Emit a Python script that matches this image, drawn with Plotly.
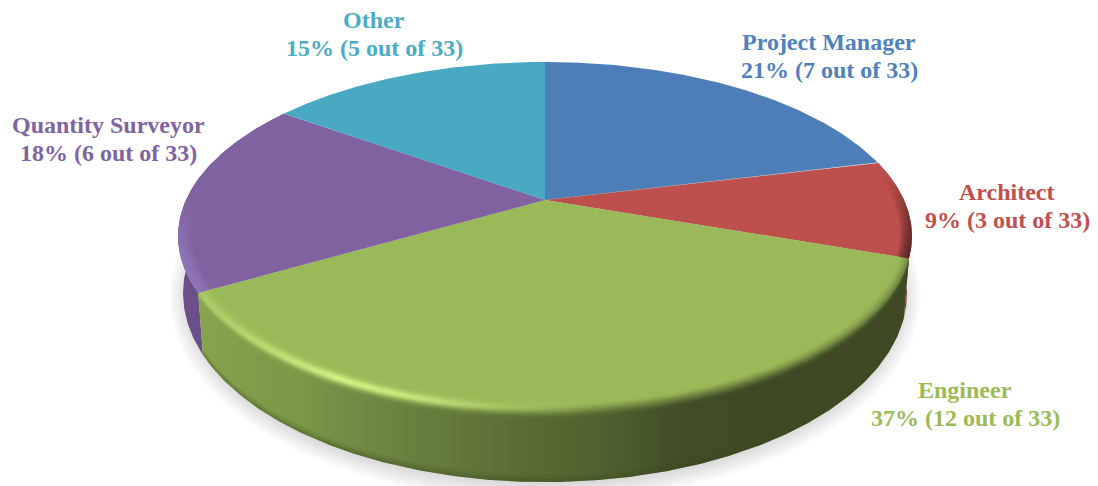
import numpy as np
import plotly.graph_objects as go

# Survey respondents by profession
roles = ["Project Manager", "Architect", "Engineer", "Quantity Surveyor", "Other"]
counts = [7, 3, 12, 6, 5]
percents = [21, 9, 37, 18, 15]
total = 33

top_colors = ["#4d7eb8", "#bd4f4c", "#9ab958", "#7f629f", "#49a8c2"]
wall_colors = ["#3a5f8c", "#8a3433", "#7f9c4b", "#6a4f8a", "#38859a"]
label_colors = ["#4f81bd", "#c0504d", "#9bbb59", "#8064a2", "#4bacc6"]
label_xy = [(829, 56), (1007, 206), (965, 404), (108, 139), (374, 34)]

# Green wall shading across the horizontal extent of the pie
wall_shade_x = [200, 300, 400, 500, 600, 680, 760, 910]
wall_shade = ["#86a34d", "#7b9747", "#6a8340", "#5b7136", "#4f622f", "#414d27", "#3f4a25", "#3f4a25"]
# Strength of the specular rim along the front edge
rim_light_x = [200, 270, 340, 420, 500, 600, 910]
rim_light = [0.35, 0.65, 1.0, 0.8, 0.4, 0.0, 0.0]

# Perspective disc: centre of the apex, axes and foreshortening
CX, CY, A, B, K = 545.0, 200.0, 359.0, 166.6, 0.207
# Top and bottom outlines, as ellipse axes
RXT, RYT, YT = 367.0, 174.0, 236.0
RXB, RYB, YB = 362.0, 189.0, 293.0


def rgb(h):
    h = h.lstrip("#")
    return np.array([int(h[i:i + 2], 16) for i in (0, 2, 4)], dtype=float)


def mix(a, b, t):
    return a + (b - a) * t


def css(c, alpha=1.0):
    return f"rgba({c[0]:.0f},{c[1]:.0f},{c[2]:.0f},{alpha:.3f})"


def disc(theta, r=1.0):
    u, v = r * np.sin(theta), -r * np.cos(theta)
    d = 1 - K * v
    return CX + A * u / d, CY + B * v / d


def wall(theta, s):
    x, y = disc(theta)
    bx = CX + (x - CX) * RXB / RXT
    by = YB + (y - YT) * RYB / RYT
    return x + (bx - x) * s, y + (by - y) * s


def smooth(t):
    t = np.clip(t, 0, 1)
    return t * t * (3 - 2 * t)


def poly(x, y, **kw):
    return go.Scatter(x=x, y=y, mode="lines", fill="toself", line=dict(width=0),
                      hoverinfo="skip", showlegend=False, **kw)


def ramp(xs, cols, lo, hi, kind):
    scale = [[float((x - lo) / (hi - lo)), c] for x, c in zip(xs, cols)]
    return dict(type=kind, colorscale=scale, start=float(lo), stop=float(hi))


fractions = np.cumsum([0] + counts) / total
edges = fractions * 2 * np.pi
spans = {r: (edges[i], edges[i + 1]) for i, r in enumerate(roles)}
fig = go.Figure()

# Soft ground shadow
for i in range(12):
    rx, ry = 376 - i * 1.6, 206 - i * 1.6
    t = np.linspace(0, 2 * np.pi, 240)
    fig.add_trace(poly(CX + rx * np.cos(t), 296 + ry * np.sin(t),
                       fillcolor="rgba(120,120,120,0.022)"))

# Outer walls, back to front
for i in (3, 1):
    th = np.linspace(edges[i], edges[i + 1], 120)
    xa, ya = wall(th, 0)
    xb, yb = wall(th[::-1], 1)
    fig.add_trace(poly(np.r_[xa, xb], np.r_[ya, yb], fillcolor=wall_colors[i]))

# Engineer wall with its horizontal light falloff
th = np.linspace(*spans["Engineer"], 240)
xa, ya = wall(th, 0)
xb, yb = wall(th[::-1], 1)
fig.add_trace(poly(np.r_[xa, xb], np.r_[ya, yb],
                   fillgradient=ramp(wall_shade_x, wall_shade, 200, 910, "horizontal")))

# Dark seam along the wall's lower edge
dark_edge = rgb("#3d4d1e")
for s0, s1, a in [(0.90, 1.0, 0.12), (0.94, 1.0, 0.15), (0.97, 1.0, 0.2)]:
    xa, ya = wall(th, s0)
    xb, yb = wall(th[::-1], s1)
    fig.add_trace(poly(np.r_[xa, xb], np.r_[ya, yb], fillcolor=css(dark_edge, a)))

# Flat top slices
for i, role in enumerate(roles):
    th = np.linspace(edges[i], edges[i + 1], 160)
    x, y = disc(th)
    fig.add_trace(poly(np.r_[CX, x, CX], np.r_[CY, y, CY], fillcolor=top_colors[i]))

# Bevel on the Engineer slice: strips run from the top face across the edge onto the wall
top = rgb(top_colors[2])
glow = rgb("#d2f584")
sample_x = np.linspace(200, 910, 48)
shade_at = np.array([np.interp(sample_x, wall_shade_x, [rgb(c)[k] for c in wall_shade]) for k in range(3)]).T
light_at = np.interp(sample_x, rim_light_x, rim_light)
th = np.linspace(*spans["Engineer"], 240)
n = 16
tvals = np.linspace(0, 1, n + 1)
# First part of the range lies on the top face, the rest on the wall
EDGE = 0.62


def band_point(theta, t):
    if t <= EDGE:
        return disc(theta, 1 - 0.05 * (EDGE - t) / EDGE)
    return wall(theta, 0.13 * (t - EDGE) / (1 - EDGE))


for k in range(n):
    t0, t1 = tvals[k], min(1.0, tvals[k + 1] + 0.03)
    tc = (t0 + t1) / 2
    xa, ya = band_point(th, t0)
    xb, yb = band_point(th[::-1], t1)
    cols = []
    for c, l in zip(shade_at, light_at):
        base = mix(top, c, smooth((tc - 0.3) / 0.7))
        cols.append(css(mix(base, glow, l * np.exp(-((tc - 0.58) / 0.2) ** 2))))
    fig.add_trace(poly(np.r_[xa, xb], np.r_[ya, yb],
                       fillgradient=ramp(sample_x, cols, 200, 910, "horizontal")))

# Rim tint on the side slices, strongest toward the lower part of each arc
for role, tint, y_fade, depth, strength in [
    ("Quantity Surveyor", "#9278bd", (205, 262), 0.035, 0.95),
    ("Architect", "#4f1f1f", (175, 250), 0.03, 0.95),
]:
    th = np.linspace(*spans[role], 160)
    tc = rgb(tint)
    for j in range(5):
        r0 = 1 - depth * (5 - j) / 5
        xa, ya = disc(th, r0)
        xb, yb = disc(th[::-1], 1.0)
        a = strength * 0.3
        fig.add_trace(poly(np.r_[xa, xb], np.r_[ya, yb],
                           fillgradient=dict(type="vertical",
                                             colorscale=[[0, css(tc, 0)], [1, css(tc, a)]],
                                             start=float(y_fade[0]), stop=float(y_fade[1]))))

# Each label has two lines set 28 px apart
for role, pct, cnt, col, (lx, ly) in zip(roles, percents, counts, label_colors, label_xy):
    lines = (role, f"{pct}% ({cnt} out of {total})")
    for line, y in zip(lines, (ly - 14, ly + 14)):
        fig.add_annotation(x=lx, y=y, text=f"<b>{line}</b>", showarrow=False,
                           xanchor="center", yanchor="middle",
                           font=dict(family="Liberation Serif", size=24, color=col))

fig.update_xaxes(visible=False, range=[0, 1098], fixedrange=True)
fig.update_yaxes(visible=False, range=[486, 0], fixedrange=True)
fig.update_layout(width=1098, height=486, margin=dict(l=0, r=0, t=0, b=0),
                  paper_bgcolor="white", plot_bgcolor="white", showlegend=False)
fig.write_html("out.html", config={"displayModeBar": False})
